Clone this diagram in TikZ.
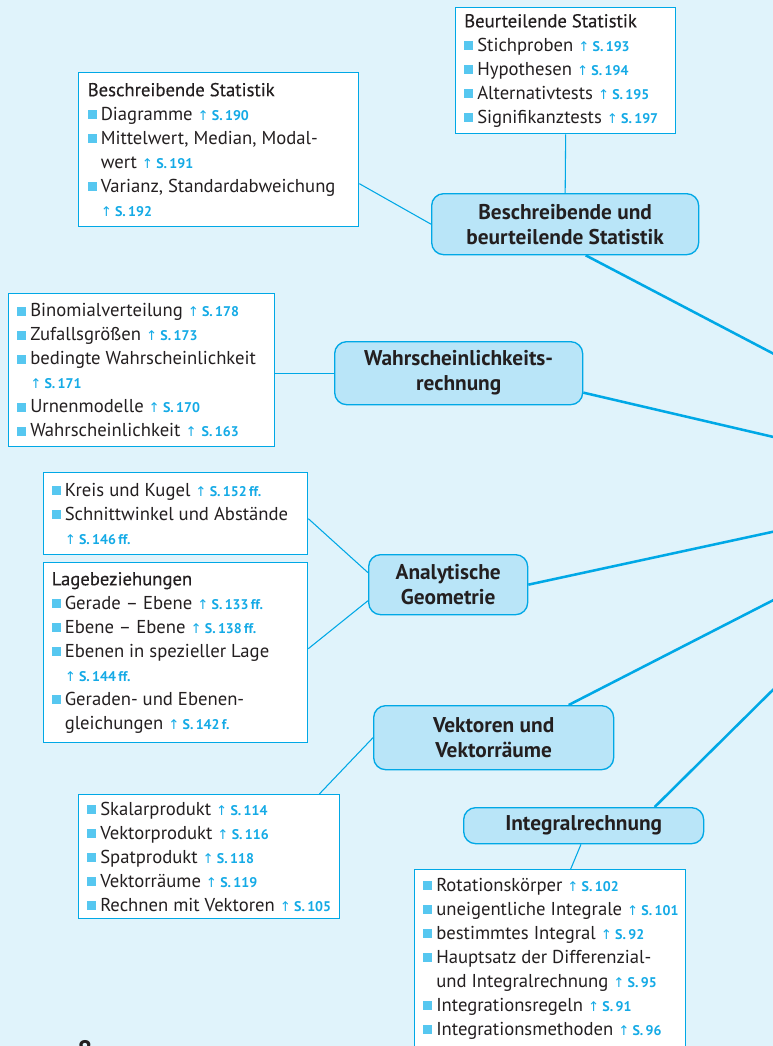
\documentclass[tikz,border=0pt]{standalone}
\usepackage{fontspec}
\setmainfont{PT Sans}
\newfontfamily\arrowfont{DejaVu Sans}
\newfontfamily\headfont{PT Sans}[FakeBold=0.3]
\usetikzlibrary{calc}
\definecolor{bgc}{RGB}{224,243,251}
\definecolor{linec}{RGB}{0,168,230}
\definecolor{mainfill}{RGB}{185,229,248}
\definecolor{bulc}{RGB}{86,199,240}
\definecolor{refc}{RGB}{20,170,230}
\definecolor{txtc}{RGB}{35,31,32}
\newcommand\PX{0.75pt}
\newcommand\bul{\textcolor{bulc}{\rule[0.75pt]{6.75pt}{6.75pt}}\hspace{3pt}}
\newcommand\ind{\hspace*{9.75pt}}
\newcommand\rf[1]{{\color{refc}{\arrowfont\fontsize{10}{10}\selectfont ↑}\,{\bfseries\fontsize{10.5}{10.5}\selectfont S.\,#1}}}
\pgfdeclarelayer{bg}
\pgfsetlayers{bg,main}
\begin{document}
\begin{tikzpicture}[x=0.75pt,y=-0.75pt,
  box/.style={draw=linec, line width=1pt, fill=white, inner sep=0pt, anchor=north west},
  txt/.style={anchor=west, align=left, inner sep=0pt, text=txtc, font=\fontsize{14}{18}\selectfont},
  mainnode/.style={draw=linec, line width=1pt, fill=mainfill, rounded corners=9pt, inner sep=0pt,
     anchor=north west, align=center, text=txtc, font=\bfseries\fontsize{16}{18.75}\selectfont},
  thin/.style={draw=linec, line width=0.8pt},
  thick/.style={draw=linec, line width=1.9pt}]
\useasboundingbox (0,0) rectangle (773,1046);
% ---- list boxes
\node[box, minimum width=220*\PX, minimum height=126*\PX] (A) at (455,7) {};
\node[txt] (At) at ([xshift=9*\PX]A.west) {{\headfont Beurteilende Statistik}\\
\bul Stichproben \rf{193}\\
\bul Hypothesen \rf{194}\\
\bul Alternativtests \rf{195}\\
\bul Signifikanztests \rf{197}};

\node[box, minimum width=280*\PX, minimum height=154*\PX] (B) at (78,72) {};
\node[txt] (Bt) at ([xshift=9.5*\PX]B.west) {{\headfont Beschreibende Statistik}\\
\bul Diagramme \rf{190}\\
\bul Mittelwert, Median, Modal-\\
\ind wert \rf{191}\\
\bul Varianz, Standardabweichung\\
\ind\rf{192}};

\node[box, minimum width=266*\PX, minimum height=153*\PX] (C) at (8,293) {};
\node[txt] (Ct) at ([xshift=9*\PX]C.west) {\bul Binomialverteilung \rf{178}\\
\bul Zufallsgrößen \rf{173}\\
\bul bedingte Wahrscheinlichkeit\\
\ind\rf{171}\\
\bul Urnenmodelle \rf{170}\\
\bul Wahrscheinlichkeit {\color{refc}{\arrowfont\fontsize{10}{10}\selectfont ↑}\ {\bfseries\fontsize{10.5}{10.5}\selectfont S.\,163}}};

\node[box, minimum width=264*\PX, minimum height=82*\PX] (D) at (43,472) {};
\node[txt] (Dt) at ([xshift=8.5*\PX]D.west) {\bul Kreis und Kugel \rf{152\,ff.}\\
\bul Schnittwinkel und Abstände\\
\ind\rf{146\,ff.}};

\node[box, minimum width=264*\PX, minimum height=180*\PX] (E) at (43,562) {};
\node[txt] (Et) at ([xshift=8.5*\PX]E.west) {{\headfont Lagebeziehungen}\\
\bul Gerade – Ebene \rf{133\,ff.}\\
\bul Ebene – Ebene \rf{138\,ff.}\\
\bul Ebenen in spezieller Lage\\
\ind\rf{144\,ff.}\\
\bul Geraden- und Ebenen-\\
\ind gleichungen \rf{142\,f.}};

\node[box, minimum width=261*\PX, minimum height=124*\PX] (F) at (78,794) {};
\node[txt] (Ft) at ([xshift=9*\PX]F.west) {\bul Skalarprodukt \rf{114}\\
\bul Vektorprodukt \rf{116}\\
\bul Spatprodukt \rf{118}\\
\bul Vektorräume \rf{119}\\
\bul Rechnen mit Vektoren \rf{105}};

\node[box, minimum width=271*\PX, minimum height=178*\PX] (G) at (414,869) {};
\node[txt] (Gt) at ([xshift=9*\PX]G.west) {\bul Rotationskörper \rf{102}\\
\bul uneigentliche Integrale \rf{101}\\
\bul bestimmtes Integral \rf{92}\\
\bul Hauptsatz der Differenzial-\\
\ind und Integralrechnung \rf{95}\\
\bul Integrationsregeln \rf{91}\\
\bul Integrationsmethoden \rf{96}};

% ---- main topic nodes
\node[mainnode, minimum width=267*\PX, minimum height=61*\PX] (M1) at (431,193) {Beschreibende und\\beurteilende Statistik};
\node[mainnode, minimum width=248*\PX, minimum height=63*\PX] (M2) at (334,341) {Wahrscheinlichkeits-\\rechnung};
\node[mainnode, minimum width=159*\PX, minimum height=60*\PX] (M3) at (368,554) {Analytische\\Geometrie};
\node[mainnode, minimum width=240*\PX, minimum height=64*\PX] (M4) at (373,705) {Vektoren und\\Vektorräume};
\node[mainnode, minimum width=240*\PX, minimum height=36*\PX] (M5) at (463,807) {Integralrechnung};

% page number (cut off at the bottom edge, as in the reference)
\node[anchor=north, inner sep=0pt, text=txtc, font=\bfseries\fontsize{20}{20}\selectfont] (pg) at (85,1040) {8};

% ---- off-page hub end points
\coordinate (h1) at (795,365);
\coordinate (h2) at (795,442);
\coordinate (h3) at (795,527);
\coordinate (h4) at (795,589);
\coordinate (h5) at (795,668);

\begin{pgfonlayer}{bg}
\fill[bgc] (0,0) rectangle (773,1046);
\draw[thin] (A.south) -- (M1.north);
\draw[thin] ([yshift=-25.5pt]B.east) -- (M1.west);
\draw[thin] (C.east |- M2.west) -- (M2.west);
\draw[thin] ([yshift=-3.75pt]D.east) -- ([yshift=9pt]M3.west);
\draw[thin] ([yshift=3pt]E.east) -- ([yshift=-12pt]M3.west);
\draw[thin] ([xshift=-15.75pt]F.north east) -- (M4.west);
\draw[thin] ([xshift=15.4pt]G.north) -- ([xshift=-2pt]M5.south);
\draw[thick] ([xshift=15.4pt]M1.south) -- (h1);
\draw[thick] ([yshift=-14.6pt]M2.east) -- (h2);
\draw[thick] (M3.east) -- (h3);
\draw[thick] ([xshift=56.25pt]M4.north) -- (h4);
\draw[thick] ([xshift=53.25pt]M5.north) -- (h5);
\end{pgfonlayer}
\end{tikzpicture}
\end{document}
